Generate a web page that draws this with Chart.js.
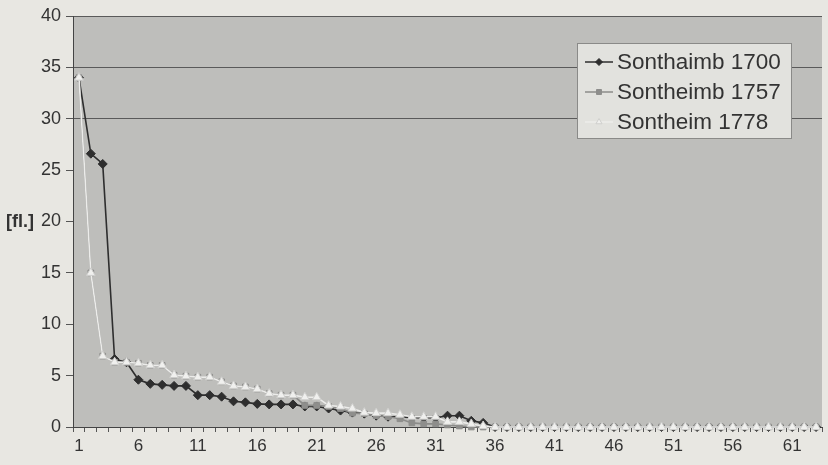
<!DOCTYPE html>
<html>
<head>
<meta charset="utf-8">
<script src="https://cdn.jsdelivr.net/npm/chart.js@4"></script>
<style>
  html, body { margin: 0; padding: 0; background: #e8e7e2; overflow: hidden; }
  #wrap { width: 828px; height: 465px; position: relative; }
</style>
</head>
<body>
<div id="wrap"><canvas id="chart"></canvas></div>
<script>
// Kategorien 1..63
const categories = [
  '1','2','3','4','5','6','7','8','9','10','11','12','13','14','15','16','17','18','19','20',
  '21','22','23','24','25','26','27','28','29','30','31','32','33','34','35','36','37','38','39','40',
  '41','42','43','44','45','46','47','48','49','50','51','52','53','54','55','56','57','58','59','60',
  '61','62','63'
];

const sonthaimb1700 = [
  34, 26.6, 25.6, 6.6, 6.3, 4.6, 4.2, 4.1, 4.0, 4.0, 3.1, 3.1, 2.95, 2.5, 2.4, 2.25, 2.2, 2.2, 2.2, 2.0,
  2.0, 1.8, 1.6, 1.4, 1.3, 1.1, 1.0, 1.0, 0.9, 0.9, 0.9, 1.1, 1.1, 0.6, 0.4, 0, 0, 0, 0, 0,
  0, 0, 0, 0, 0, 0, 0, 0, 0, 0, 0, 0, 0, 0, 0, 0, 0, 0, 0, 0,
  0, 0, 0
];

const sontheimb1757 = [
  34, 15, 6.9, 6.3, 6.3, 6.2, 6.0, 6.0, 5.05, 4.95, 4.85, 4.85, 4.4, 4.0, 3.9, 3.7, 3.25, 3.1, 3.1, 2.1,
  2.1, 2.0, 1.8, 1.35, 1.3, 1.1, 1.0, 0.8, 0.4, 0.3, 0.3, 0.2, 0.1, 0, 0, 0, 0, 0, 0, 0,
  0, 0, 0, 0, 0, 0, 0, 0, 0, 0, 0, 0, 0, 0, 0, 0, 0, 0, 0, 0,
  0, 0, 0
];

const sontheim1778 = [
  34, 15, 6.9, 6.3, 6.3, 6.2, 6.0, 6.0, 5.05, 4.95, 4.85, 4.85, 4.4, 4.0, 3.9, 3.7, 3.25, 3.1, 3.1, 2.9,
  2.9, 2.1, 2.0, 1.8, 1.4, 1.35, 1.35, 1.2, 1.0, 1.0, 1.0, 0.5, 0.5, 0.3, 0.1, 0, 0, 0, 0, 0,
  0, 0, 0, 0, 0, 0, 0, 0, 0, 0, 0, 0, 0, 0, 0, 0, 0, 0, 0, 0,
  0, 0, 0
];

const yTicks = [0, 5, 10, 15, 20, 25, 30, 35, 40];
const yLabel = '[fl.]';

// Hintergrund des Diagrammbereichs
const plotBg = {
  id: 'plotBg',
  beforeDraw(chart) {
    const a = chart.chartArea, ctx = chart.ctx;
    ctx.save();
    ctx.fillStyle = '#bebebb';
    ctx.fillRect(a.left, a.top, a.right - a.left, a.bottom - a.top);
    ctx.restore();
  }
};

// Achsentitel links und Legende im Excel-Stil
const extras = {
  id: 'extras',
  afterDraw(chart) {
    const ctx = chart.ctx;
    const y = chart.scales.y;
    ctx.save();
    ctx.fillStyle = '#333';
    ctx.font = 'bold 18px "Liberation Sans", Arial, sans-serif';
    ctx.textAlign = 'left';
    ctx.textBaseline = 'middle';
    ctx.fillText(yLabel, 6, y.getPixelForValue(20) + 1);

    // Legende
    const bx = 577, by = 43, bw = 214, bh = 95;
    ctx.fillStyle = '#e2e2de';
    ctx.fillRect(bx, by, bw, bh);
    ctx.strokeStyle = '#8a8a88';
    ctx.lineWidth = 1;
    ctx.strokeRect(bx + 0.5, by + 0.5, bw, bh);
    ctx.font = '22.5px "Liberation Sans", Arial, sans-serif';
    chart.data.datasets.forEach((ds, i) => {
      const cy = by + 19 + i * 30;
      ctx.strokeStyle = ds.borderColor;
      ctx.lineWidth = 1.5;
      ctx.beginPath();
      ctx.moveTo(585, cy);
      ctx.lineTo(613, cy);
      ctx.stroke();
      ctx.fillStyle = ds.pointBackgroundColor;
      ctx.strokeStyle = ds.pointBorderColor;
      ctx.lineWidth = 1;
      Chart.helpers.drawPoint(ctx, {
        pointStyle: ds.pointStyle, radius: 3.5, borderWidth: 1, rotation: 0
      }, 599, cy);
      ctx.fillStyle = '#333';
      ctx.fillText(ds.label, 617, cy + 1);
    });
    ctx.restore();
  }
};

new Chart(document.getElementById('chart'), {
  type: 'line',
  data: {
    labels: categories,
    datasets: [
      {
        label: 'Sonthaimb 1700',
        data: sonthaimb1700,
        borderColor: '#2e2e2e',
        borderWidth: 1.6,
        pointStyle: 'rectRot',
        pointRadius: 4.5,
        pointBackgroundColor: '#2e2e2e',
        pointBorderColor: '#2e2e2e',
        pointBorderWidth: 1,
        tension: 0,
        clip: false,
        order: 3
      },
      {
        label: 'Sontheimb 1757',
        data: sontheimb1757,
        borderColor: '#8c8c8a',
        borderWidth: 1.6,
        pointStyle: 'rect',
        pointRadius: 4,
        pointBackgroundColor: '#8e8e8c',
        pointBorderColor: '#8e8e8c',
        pointBorderWidth: 1,
        tension: 0,
        clip: false,
        order: 2
      },
      {
        label: 'Sontheim 1778',
        data: sontheim1778,
        borderColor: '#ececea',
        borderWidth: 1.6,
        pointStyle: 'triangle',
        pointRadius: 5,
        pointBackgroundColor: '#f0f0ee',
        pointBorderColor: '#cfcfcd',
        pointBorderWidth: 1,
        tension: 0,
        clip: false,
        order: 1
      }
    ]
  },
  options: {
    responsive: true,
    maintainAspectRatio: false,
    animation: false,
    layout: { padding: { top: 16, right: 0, left: 0, bottom: 0 } },
    plugins: {
      legend: { display: false },
      tooltip: { enabled: false }
    },
    scales: {
      x: {
        offset: true,
        grid: {
          offset: true,
          drawOnChartArea: false,
          tickLength: 5,
          color: '#555'
        },
        border: { color: '#444', width: 1 },
        ticks: {
          autoSkip: false,
          maxRotation: 0,
          padding: 4,
          color: '#333',
          font: { size: 17, family: '"Liberation Sans", Arial, sans-serif' },
          callback: function(val, index) {
            return index % 5 === 0 ? this.getLabelForValue(val) : '';
          }
        },
        afterFit(scale) { scale.height = 38; }
      },
      y: {
        min: 0,
        max: 40,
        afterBuildTicks(scale) {
          scale.ticks = yTicks.map(v => ({ value: v }));
        },
        grid: {
          color: ctx => (ctx.tick && (ctx.tick.value === 30 || ctx.tick.value === 35 || ctx.tick.value === 40)) ? '#5a5a5a' : 'rgba(0,0,0,0)',
          tickColor: '#555',
          tickLength: 7,
          lineWidth: 1
        },
        border: { color: '#444', width: 1 },
        ticks: {
          padding: 5,
          color: '#333',
          font: { size: 18, family: '"Liberation Sans", Arial, sans-serif' }
        },
        afterFit(scale) { scale.width = 73; }
      }
    }
  },
  plugins: [plotBg, extras]
});
</script>
</body>
</html>
